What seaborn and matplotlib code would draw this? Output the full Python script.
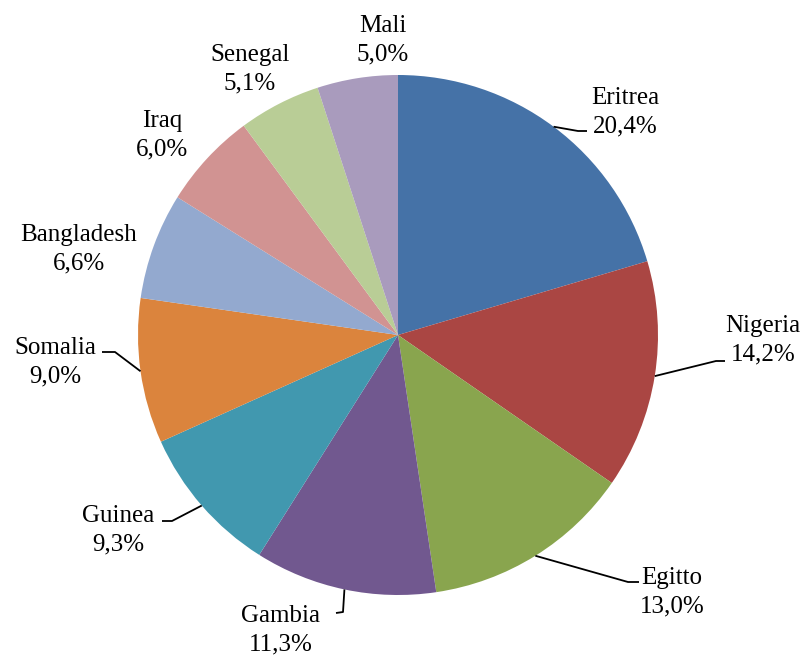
import numpy as np
import seaborn as sns
import matplotlib.pyplot as plt

# data
countries = ['Eritrea', 'Nigeria', 'Egitto', 'Gambia', 'Guinea', 'Somalia',
             'Bangladesh', 'Iraq', 'Senegal', 'Mali']
shares = [20.4, 14.2, 13.0, 11.3, 9.3, 9.0, 6.6, 6.0, 5.1, 5.0]
colors = ['#4572A7', '#AA4643', '#89A54E', '#71588F', '#4198AF',
          '#DB843D', '#93A9CF', '#D19392', '#B9CD96', '#A99BBD']

sns.set_style('white')
plt.rcParams['font.family'] = ['Liberation Serif', 'DejaVu Serif']

W, H = 809, 661
fig = plt.figure(figsize=(W / 100, H / 100), dpi=100)
ax = fig.add_axes([0, 0, 1, 1])
ax.set_xlim(0, W)
ax.set_ylim(0, H)
ax.set_aspect('equal')
ax.axis('off')

cx, cy, r = 398, H - 335, 260
wedges, _ = ax.pie(shares, colors=sns.color_palette(colors), startangle=90,
                   counterclock=False, center=(cx, cy), radius=r,
                   wedgeprops=dict(linewidth=0))
ax.set_xlim(0, W)
ax.set_ylim(0, H)

# label centres (pixel coords from top-left)
label_pos = {'Eritrea': (625, 112), 'Nigeria': (763, 340), 'Egitto': (672, 592),
             'Gambia': (281, 630), 'Guinea': (118, 530), 'Somalia': (55, 362),
             'Bangladesh': (79, 249), 'Iraq': (162, 135), 'Senegal': (250, 69),
             'Mali': (383, 40)}
# leader lines: elbow and end (pixel coords)
leaders = {'Eritrea': [(578, 131), (587, 131)],
           'Nigeria': [(716, 361), (725, 361)],
           'Egitto': [(628, 582), (639, 582)],
           'Gambia': [(343, 612), (336, 613)],
           'Guinea': [(172, 521), (162, 521)],
           'Somalia': [(115, 352), (102, 352)]}

for w, name, val in zip(wedges, countries, shares):
    px, py = label_pos[name]
    txt = f'{name}\n{val:.1f}%'.replace('.', ',')
    ax.text(px, H - py, txt, ha='center', va='center', fontsize=18,
            linespacing=1.4, color='black')
    if name in leaders:
        ang = np.deg2rad((w.theta1 + w.theta2) / 2)
        xs = [cx + r * np.cos(ang)] + [p[0] for p in leaders[name]]
        ys = [cy + r * np.sin(ang)] + [H - p[1] for p in leaders[name]]
        ax.plot(xs, ys, color='black', lw=1.3, solid_capstyle='butt')

plt.savefig('out.png', dpi=100)
